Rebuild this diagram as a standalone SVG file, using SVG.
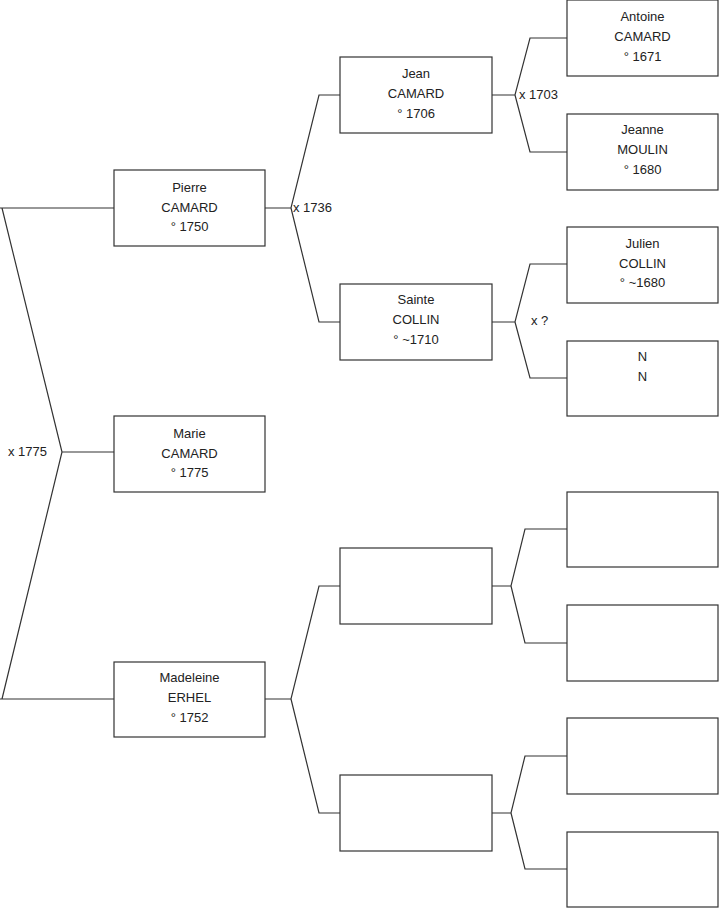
<svg xmlns="http://www.w3.org/2000/svg" width="719" height="908" viewBox="0 0 719 908">
<style>
.box{fill:#fff;stroke:#333;stroke-width:1.2}
.ln{fill:none;stroke:#333;stroke-width:1.2}
text{font-family:"Liberation Sans",Arial,sans-serif;font-size:13px;fill:#222}
.c{text-anchor:middle}
</style>
<rect width="719" height="908" fill="#fff"/>
<g id="connectors">
<path class="ln" d="M0,208H114M2,208L62,452L2,699M62,452H114M0,699H114"/>
<path class="ln" d="M265,208H291L319,95H340M291,208L319,322H340"/>
<path class="ln" d="M492,95H515L530,38H567M515,95L530,152H567"/>
<path class="ln" d="M492,322H515L530,264H567M515,322L530,378H567"/>
<path class="ln" d="M265,699H291L319,586H340M291,699L319,813H340"/>
<path class="ln" d="M492,586H511L525,529H567M511,586L525,643H567"/>
<path class="ln" d="M492,813H511L525,756H567M511,813L525,869H567"/>
<text x="8" y="456">x 1775</text>
<text x="293" y="212">x 1736</text>
<text x="519" y="99">x 1703</text>
<text x="531" y="325">x ?</text>
</g>
<g id="pierre"><rect class="box" x="114" y="170" width="151" height="76"/>
<text class="c" x="189.5" y="192">Pierre</text><text class="c" x="189.5" y="212">CAMARD</text><text class="c" x="189.5" y="231">° 1750</text></g>
<g id="marie"><rect class="box" x="114" y="416" width="151" height="76"/>
<text class="c" x="189.5" y="438">Marie</text><text class="c" x="189.5" y="458">CAMARD</text><text class="c" x="189.5" y="477">° 1775</text></g>
<g id="madeleine"><rect class="box" x="114" y="662" width="151" height="75"/>
<text class="c" x="189.5" y="682">Madeleine</text><text class="c" x="189.5" y="702">ERHEL</text><text class="c" x="189.5" y="722">° 1752</text></g>
<g id="jean"><rect class="box" x="340" y="57" width="152" height="76"/>
<text class="c" x="416" y="78">Jean</text><text class="c" x="416" y="98">CAMARD</text><text class="c" x="416" y="118">° 1706</text></g>
<g id="sainte"><rect class="box" x="340" y="284" width="152" height="76"/>
<text class="c" x="416" y="304">Sainte</text><text class="c" x="416" y="324">COLLIN</text><text class="c" x="416" y="344">° ~1710</text></g>
<g id="empty1"><rect class="box" x="340" y="548" width="152" height="76"/></g>
<g id="empty2"><rect class="box" x="340" y="775" width="152" height="76"/></g>
<g id="antoine"><rect class="box" x="567" y="0" width="151" height="76"/>
<text class="c" x="642.5" y="21">Antoine</text><text class="c" x="642.5" y="41">CAMARD</text><text class="c" x="642.5" y="61">° 1671</text></g>
<g id="jeanne"><rect class="box" x="567" y="114" width="151" height="76"/>
<text class="c" x="642.5" y="134">Jeanne</text><text class="c" x="642.5" y="154">MOULIN</text><text class="c" x="642.5" y="174">° 1680</text></g>
<g id="julien"><rect class="box" x="567" y="227" width="151" height="76"/>
<text class="c" x="642.5" y="248">Julien</text><text class="c" x="642.5" y="268">COLLIN</text><text class="c" x="642.5" y="287">° ~1680</text></g>
<g id="nn"><rect class="box" x="567" y="341" width="151" height="75"/>
<text class="c" x="642.5" y="361">N</text><text class="c" x="642.5" y="381">N</text></g>
<g id="empty3"><rect class="box" x="567" y="492" width="151" height="75"/></g>
<g id="empty4"><rect class="box" x="567" y="605" width="151" height="76"/></g>
<g id="empty5"><rect class="box" x="567" y="718" width="151" height="76"/></g>
<g id="empty6"><rect class="box" x="567" y="832" width="151" height="75"/></g>
</svg>
